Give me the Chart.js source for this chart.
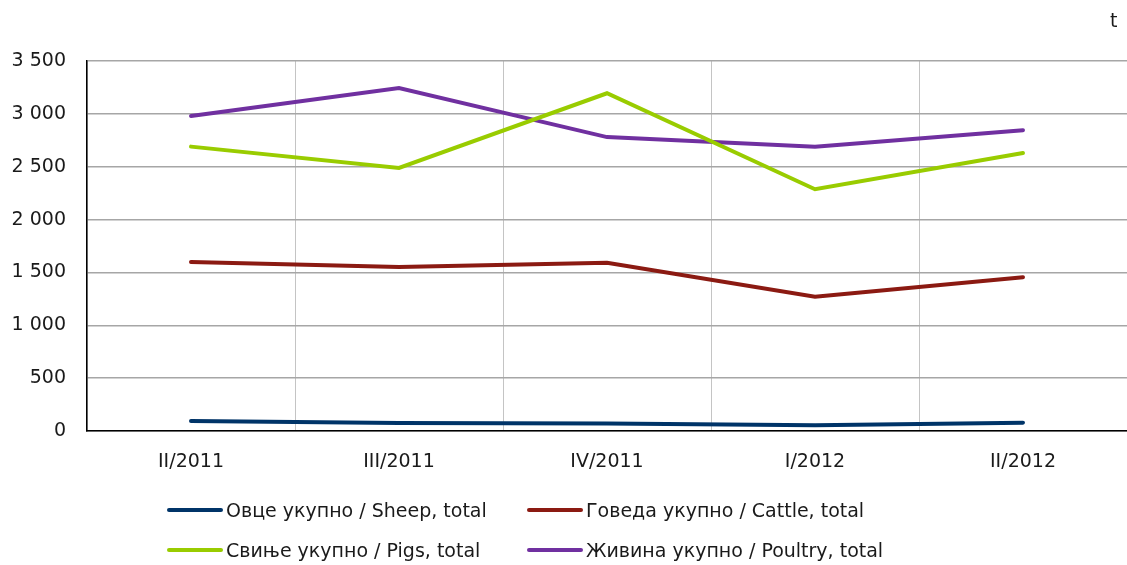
<!DOCTYPE html>
<html lang="sr">
<head>
<meta charset="UTF-8">
<script src="https://cdn.jsdelivr.net/npm/chart.js"></script>
<title>Клање стоке</title>
<style>
    body { margin: 0; background: #fff; font-family: "DejaVu Sans", sans-serif; }
    .wrap { position: relative; width: 1127px; height: 565px; }
    .unit { position: absolute; left: 1110px; top: 9px; font-size: 19px; color: #1a1a1a; }
    .legend { position: absolute; left: 167px; top: 496px; display: grid; grid-template-columns: 360px 360px; row-gap: 12px; }
    .legend div { display: flex; align-items: center; height: 28px; font-size: 19px; color: #1a1a1a; white-space: nowrap; }
    .legend span.ln { display: inline-block; width: 56px; height: 4px; border-radius: 2px; margin-right: 3px; }
</style>
</head>
<body>
<div class="wrap">
    <canvas id="grafico" width="1127" height="565"></canvas>
    <div class="unit">t</div>
    <div class="legend" id="legenda"></div>
</div>
<script>
    // периоди (квартали)
    var kvartali = ['II/2011', 'III/2011', 'IV/2011', 'I/2012', 'II/2012'];

    var ovce = [95, 76, 70, 54, 79];
    var goveda = [1599, 1551, 1592, 1270, 1455];
    var svinje = [2690, 2488, 3195, 2287, 2630];
    var zivina = [2980, 3245, 2780, 2688, 2845];

    var nazivi = [
        'Овце укупно / Sheep, total',
        'Говеда укупно / Cattle, total',
        'Свиње укупно / Pigs, total',
        'Живина укупно / Poultry, total'
    ];
    var boje = ['#003468', '#8b1a12', '#99cc00', '#7030a0'];

    var yTicks = [0, 500, 1000, 1500, 2000, 2500, 3000, 3500];

    function serija(i, podaci) {
        return {
            label: nazivi[i],
            data: podaci,
            borderColor: boje[i],
            backgroundColor: boje[i],
            borderWidth: 4,
            pointRadius: 0,
            tension: 0,
            borderCapStyle: 'round'
        };
    }

    const ctx = document.getElementById('grafico');
    var grafico = new Chart(ctx, {
        type: 'line',
        data: {
            labels: kvartali,
            datasets: [serija(0, ovce), serija(1, goveda), serija(2, svinje), serija(3, zivina)]
        },
        options: {
            responsive: false,
            animation: false,
            layout: { padding: { top: 61, right: 0, left: 0, bottom: 0 } },
            plugins: {
                legend: { display: false },
                tooltip: { enabled: false }
            },
            scales: {
                x: {
                    offset: true,
                    grid: { color: '#c4c4c4', lineWidth: 1, offset: true, drawTicks: false },
                    border: { color: '#000', width: 1.5 },
                    ticks: { color: '#1a1a1a', font: { family: 'DejaVu Sans', size: 19 }, padding: 20 },
                    afterFit: function (scale) { scale.height = 134; }
                },
                y: {
                    min: 0,
                    max: 3500,
                    afterBuildTicks: function (scale) {
                        scale.ticks = yTicks.map(v => ({ value: v }));
                    },
                    grid: { color: '#a6a6a6', lineWidth: 1.5, drawTicks: false },
                    border: { color: '#000', width: 1.5 },
                    ticks: {
                        color: '#1a1a1a',
                        font: { family: 'DejaVu Sans', size: 19 },
                        padding: 21,
                        callback: function (v) {
                            return String(v).replace(/\B(?=(\d{3})+(?!\d))/g, ' ');
                        }
                    },
                    afterFit: function (scale) { scale.width = 87; }
                }
            }
        }
    });

    // легенда у два ступца
    var legenda = document.getElementById('legenda');
    [0, 1, 2, 3].forEach(function (i) {
        var d = document.createElement('div');
        d.innerHTML = '<span class="ln" style="background:' + boje[i] + '"></span>' + nazivi[i];
        legenda.appendChild(d);
    });
</script>
</body>
</html>
